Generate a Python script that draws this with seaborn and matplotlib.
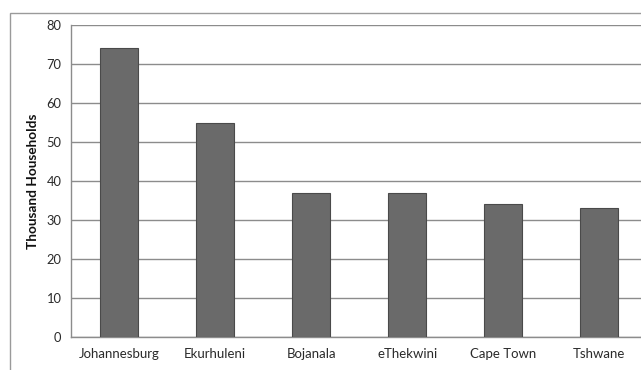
import matplotlib
matplotlib.use("Agg")
import matplotlib.pyplot as plt
from matplotlib.patches import Rectangle
import seaborn as sns
import pandas as pd
import numpy as np

municipalities = ["Johannesburg", "Ekurhuleni", "Bojanala", "eThekwini", "Cape Town", "Tshwane"]
households_thousands = [74, 55, 37, 37, 34, 33]
y_ticks = [0, 10, 20, 30, 40, 50, 60, 70, 80]

df = pd.DataFrame({"Municipality": municipalities, "Households": households_thousands})

sns.set_theme(style="white")
plt.rcParams["font.family"] = ["Lato", "DejaVu Sans"]

fig = plt.figure(figsize=(6.41, 3.70), dpi=100)
ax = fig.add_axes([0.111, 0.0892, 0.8986, 0.8432])

sns.barplot(data=df, x="Municipality", y="Households", ax=ax, color="#6a6a6a",
            width=0.4, edgecolor="#4a4a4a", linewidth=0.8, saturation=1, zorder=3)

ax.set_xlim(-0.5, len(municipalities) - 0.5)
ax.set_ylim(0, 80)
ax.set_yticks(y_ticks)
ax.set_yticklabels([str(v) for v in y_ticks], fontsize=9.3, color="#2a2a2a")
ax.yaxis.grid(True, color="#8c8c8c", linewidth=1.0, zorder=0)
ax.xaxis.grid(False)
ax.set_xlabel("")
ax.set_ylabel("Thousand Households", fontsize=9.8, fontweight="bold", color="#111111", labelpad=5)

# category labels between boundary tick marks
ax.set_xticks(range(len(municipalities)))
ax.set_xticklabels(municipalities, fontsize=9.5, color="#2a2a2a")
ax.tick_params(axis="x", length=0, pad=8)
ax.set_xticks(np.arange(-0.5, len(municipalities), 1.0), minor=True)
ax.tick_params(axis="x", which="minor", length=4, color="#8c8c8c", width=1.0, direction="out")
ax.tick_params(axis="y", length=4, color="#8c8c8c", width=1.0, direction="out", pad=3)

for side in ["top", "right"]:
    ax.spines[side].set_visible(False)
for side in ["left", "bottom"]:
    ax.spines[side].set_visible(True)
    ax.spines[side].set_color("#8c8c8c")
    ax.spines[side].set_linewidth(1.0)

# chart frame
fig.patches.append(Rectangle((10 / 641, -0.1), 1.2, 1 - 13 / 370 + 0.1,
                             transform=fig.transFigure, fill=False,
                             edgecolor="#9a9a9a", linewidth=1.0))

fig.savefig("out.png", dpi=100)
